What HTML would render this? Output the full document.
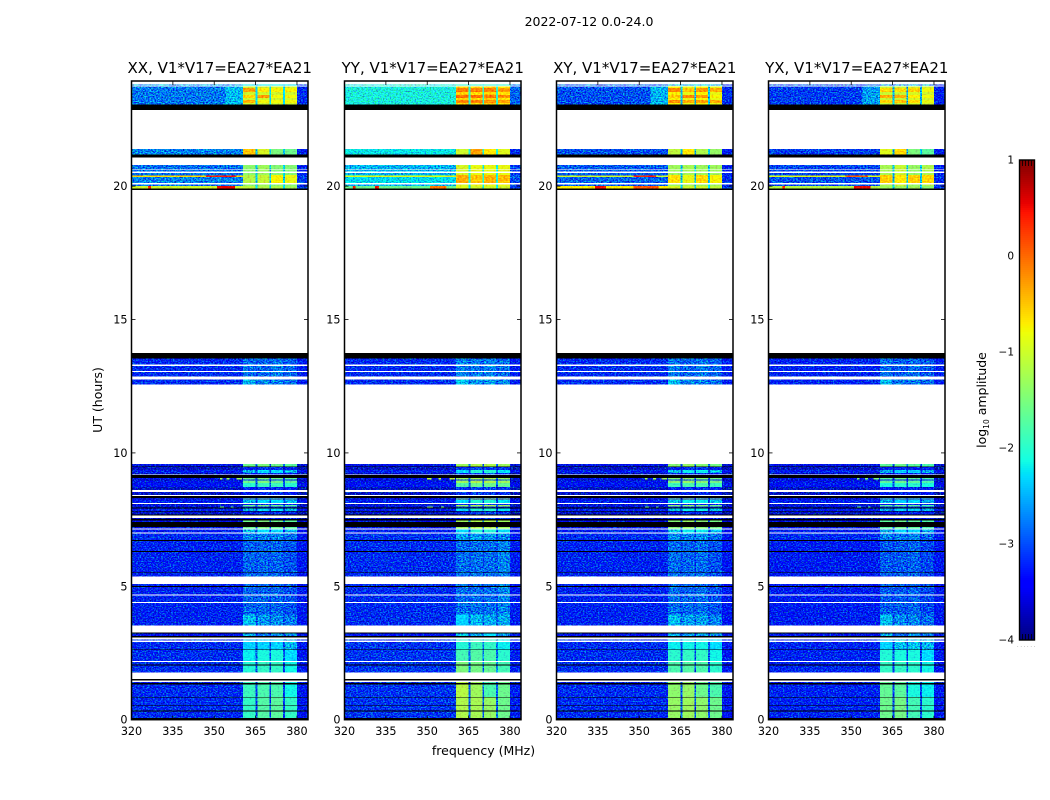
<!DOCTYPE html>
<html>
<head>
<meta charset="utf-8">
<title>2022-07-12 waterfall</title>
<style>
html,body{margin:0;padding:0;background:#fff;}
svg{display:block;}
text{font-family:"DejaVu Sans","Liberation Sans",sans-serif;fill:#000;}
</style>
</head>
<body>
<svg id="figure" xmlns="http://www.w3.org/2000/svg" width="1050" height="800" viewBox="0 0 1050 800">
  <defs>
    <filter id="speckle" x="0" y="0" width="1" height="1" color-interpolation-filters="sRGB">
      <feTurbulence type="fractalNoise" baseFrequency="0.6 0.8" numOctaves="2" seed="4" result="n"/>
      <feColorMatrix in="n" type="matrix" values="0 0 0 0 0.5  0 2 0 0 -0.5  0 0 1.4 0 -0.2  0 0 0 0 1" result="m"/>
      <feComposite in="SourceGraphic" in2="m" operator="arithmetic" k1="0" k2="1" k3="1" k4="-0.5" result="c"/>
      <feComposite in="c" in2="SourceAlpha" operator="in"/>
    </filter>
    <filter id="speckle-soft" x="0" y="0" width="1" height="1" color-interpolation-filters="sRGB">
      <feTurbulence type="fractalNoise" baseFrequency="0.5 0.7" numOctaves="1" seed="9" result="n"/>
      <feColorMatrix in="n" type="matrix" values="0 0 0 0 0.5  0 0.8 0 0 0.1  0 0 0 0 0.5  0 0 0 0 1" result="m"/>
      <feComposite in="SourceGraphic" in2="m" operator="arithmetic" k1="0" k2="1" k3="1" k4="-0.5" result="c"/>
      <feComposite in="c" in2="SourceAlpha" operator="in"/>
    </filter>
  </defs>
  <rect x="0" y="0" width="1050" height="800" fill="#fff"/>
  <text x="589" y="26" font-size="12.5" text-anchor="middle">2022-07-12 0.0-24.0</text>
  <text x="483.5" y="755" font-size="12.5" text-anchor="middle">frequency (MHz)</text>
  <text transform="translate(102,400) rotate(-90)" font-size="12.5" text-anchor="middle">UT (hours)</text>
  <text transform="translate(986,400) rotate(-90)" font-size="12.5" text-anchor="middle">log<tspan font-size="7.5" dy="3">10</tspan><tspan dy="-3"> amplitude</tspan></text>
  <g id="panels"></g>
  <g id="colorbar"></g>
</svg>
<script>
// ---- Axis data ----
const panelTitles = ["XX, V1*V17=EA27*EA21","YY, V1*V17=EA27*EA21","XY, V1*V17=EA27*EA21","YX, V1*V17=EA27*EA21"];
const freqTicks = [320,335,350,365,380];
const hourTicks = [0,5,10,15,20];
const colorTicks = [1,0,-1,-2,-3,-4];
const freqRange = [320,384];
const hourRange = [0,23.94];
const colorRange = [-4,1];

// Frequency segments (MHz): column = index into a level row
// level row: [background, window1, window2, window3, window4, windowGap, tail]
const channelEdges = [320,360.4,365,365.6,370,370.6,375,375.6,380,384];
const channelColumn = [0,1,5,2,5,3,5,4,6];

// Time bands (UT hours): [start, end, class]; x = no data (white), k = flagged (black)
const timeBands = [
[0,.07,'k'],[.07,.31,'a'],[.31,.34,'k'],[.34,.53,'a'],[.53,.56,'k'],[.56,.83,'a'],[.83,.86,'k'],[.86,1.32,'a2'],[1.32,1.37,'k'],[1.37,1.41,'a2'],[1.41,1.46,'x'],[1.46,1.52,'k'],[1.52,1.77,'x'],
[1.77,2.03,'c'],[2.03,2.06,'k'],[2.06,2.16,'c'],[2.16,2.20,'x'],[2.20,2.61,'d'],[2.61,2.64,'k'],[2.64,2.91,'d2'],[2.91,2.96,'x'],[2.96,3.01,'d2'],[3.01,3.08,'x'],[3.08,3.13,'k'],[3.13,3.23,'e'],[3.23,3.26,'k'],[3.26,3.54,'x'],
[3.54,3.95,'q1'],[3.95,4.37,'q2'],[4.37,4.41,'x'],[4.41,4.65,'q2'],[4.65,4.69,'x'],[4.69,4.97,'q2'],[4.97,5.01,'k'],[5.01,5.08,'q2'],[5.08,5.36,'x'],[5.36,5.51,'q2'],[5.51,5.54,'k'],[5.54,6.29,'q2'],[6.29,6.32,'k'],[6.32,6.69,'q2'],[6.69,6.74,'k'],
[6.74,6.97,'q3'],[6.97,7.01,'x'],[7.01,7.13,'m'],[7.13,7.17,'x'],[7.17,7.23,'g'],[7.23,7.41,'k'],[7.41,7.47,'g'],[7.47,7.52,'k'],[7.52,7.56,'n'],[7.56,7.66,'x'],[7.66,7.69,'k'],[7.69,7.80,'n'],[7.80,7.83,'k'],[7.83,7.92,'m'],[7.92,7.95,'k'],[7.95,8,'n'],[8,8.05,'g'],[8.05,8.08,'n'],[8.08,8.13,'x'],[8.13,8.23,'m'],[8.23,8.26,'n'],[8.26,8.29,'g'],[8.29,8.31,'n'],[8.31,8.38,'k'],[8.38,8.43,'x'],[8.43,8.53,'n'],[8.53,8.61,'x'],[8.61,8.73,'n'],[8.73,8.88,'l'],[8.88,8.96,'g'],[8.96,9.01,'n'],[9.01,9.06,'g'],[9.06,9.17,'k'],[9.17,9.19,'x'],[9.19,9.25,'n'],[9.25,9.36,'m'],[9.36,9.47,'n'],[9.47,9.49,'k'],[9.49,9.58,'g'],
[12.52,12.56,'x'],[12.56,12.76,'h2'],[12.76,12.86,'x'],[12.86,13.03,'h'],[13.03,13.07,'x'],[13.07,13.26,'h'],[13.26,13.31,'x'],[13.31,13.54,'h'],[13.54,13.74,'k'],
[19.86,19.92,'k'],[19.92,20.01,'r'],[20.01,20.06,'w'],[20.06,20.11,'x'],[20.11,20.35,'y'],[20.35,20.39,'v'],[20.39,20.42,'y'],[20.42,20.5,'w'],[20.5,20.54,'x'],[20.54,20.6,'w'],[20.6,20.63,'x'],[20.63,20.8,'w'],
[21.07,21.19,'k'],[21.19,21.39,'s'],[22.86,23.05,'k'],
[23.05,23.12,'t0'],[23.12,23.23,'t1'],[23.23,23.31,'t0'],[23.31,23.42,'t2'],[23.42,23.53,'t0'],[23.53,23.68,'t3'],[23.68,23.73,'t0'],[23.78,23.81,'p']
];

// Level rows per band class, one table per polarisation (log10 amplitude)
const levelsXX = {
 a:[-3.2,-1.95,-1.75,-1.7,-1.95,-3.1,-3.35], a2:[-3.2,-1.9,-1.8,-1.8,-2.15,-3.1,-3.35], c:[-3.2,-2.05,-1.95,-1.95,-2.15,-3,-3.35], d:[-3.2,-2.2,-2.1,-2.1,-2.3,-3,-3.35], d2:[-3.2,-2.35,-2.35,-2.35,-2.5,-3,-3.35], e:[-3.5,-2.5,-2.8,-2.7,-2.7,-3.2,-3.5],
 q1:[-3.25,-2.45,-2.65,-2.7,-2.8,-3,-3.35], q2:[-3.25,-2.9,-2.9,-2.9,-3,-3.05,-3.35], q3:[-3.2,-2.75,-2.75,-2.75,-2.85,-3,-3.35],
 g:[-3.5,-1.6,-1.5,-1.6,-1.7,-3,-3.6], l:[-3.4,-2,-1.9,-1.9,-2,-3.1,-3.5], n:[-3.7,-3.3,-3.2,-3.2,-3.3,-3.6,-3.8], m:[-3.3,-2.5,-2.3,-2.3,-2.5,-3.1,-3.4],
 h:[-3.2,-2.85,-2.9,-2.8,-2.9,-3,-3.3], h2:[-3.2,-2.5,-2.75,-2.75,-2.85,-3,-3.3],
 r:[-1,-1.1,-1.2,-1.2,-1.3,-2.3,-3.1], w:[-2.85,-1.4,-1.3,-1.45,-1.45,-2.4,-3.3], y:[-2.75,-1.15,-1.05,-.75,-.85,-2.4,-3.1], v:[-.6,-1.15,-1.05,-.75,-.85,-2.4,-3.1], s:[-2.75,-.5,-.95,-1.5,-1.6,-2.4,-3.3],
 t0:[-2.8,-1,-1,-1,-1,-2.3,-3.2], t1:[-2.8,-.4,-.8,-.8,-.8,-2.3,-3.2], t2:[-2.8,-.6,-.3,-.8,-.8,-2.3,-3.2], t3:[-2.8,-.3,-.7,-.75,-.75,-2.3,-3.2], p:[-2.6,-2.2,-2.2,-2.2,-2.2,-2.4,-2.9]
};
const levelsYY = {
 a:[-3.15,-1.2,-1.25,-1.35,-1.6,-2.9,-3.3], a2:[-3.15,-1.15,-1.3,-1.8,-1.6,-2.9,-3.3], c:[-3.15,-1.5,-1.55,-1.65,-1.85,-2.8,-3.3], d:[-3.15,-1.85,-1.75,-1.8,-2,-2.8,-3.3], d2:[-3.15,-2.05,-1.9,-1.95,-2.2,-2.8,-3.3], e:[-3.4,-2.4,-2.5,-2.3,-2.6,-3,-3.5],
 q1:[-3.2,-2.35,-2.45,-2.55,-2.55,-2.9,-3.3], q2:[-3.2,-2.85,-2.85,-2.85,-2.75,-3,-3.3], q3:[-3.15,-2.6,-2.6,-2.65,-2.75,-3,-3.3],
 g:[-3.5,-1.3,-1.2,-1.2,-1.3,-2.9,-3.6], l:[-3.4,-1.75,-1.6,-1.6,-1.65,-3,-3.5], n:[-3.7,-3.2,-3.1,-3.1,-3.2,-3.6,-3.8], m:[-3.3,-2.3,-2.05,-2.05,-2.25,-3,-3.4],
 h:[-3.2,-2.75,-2.8,-2.75,-2.85,-3,-3.3], h2:[-3.2,-2.4,-2.65,-2.65,-2.75,-3,-3.3],
 r:[-1.6,-.9,-1,-1,-1,-2.2,-3.1], w:[-2.5,-.95,-.85,-.85,-.85,-2.2,-3.1], y:[-2.25,-.35,-.5,-.4,-.45,-2.1,-3], v:[-.9,-.35,-.5,-.4,-.45,-2.1,-3], s:[-2.2,-1,-.3,-.7,-.9,-2.1,-3.2],
 t0:[-2.1,-.55,-.6,-.55,-.65,-2,-2.9], t1:[-2.1,-.15,-.15,-.2,-.3,-2,-2.9], t2:[-2.1,-.05,-.05,-.1,-.2,-2,-2.9], t3:[-2.1,-.1,-.15,-.15,-.25,-2,-2.9], p:[-2.1,-2,-2,-2,-2,-2.2,-2.7]
};
const levelsXY = {
 a:[-3.2,-1.35,-1.3,-1.4,-1.6,-3,-3.35], a2:[-3.2,-1.4,-1.35,-1.6,-1.8,-3,-3.35], c:[-3.2,-1.8,-1.75,-1.8,-2,-3,-3.35], d:[-3.2,-2,-1.95,-1.95,-2.15,-3,-3.35], d2:[-3.2,-2.2,-2.15,-2.15,-2.3,-3,-3.35], e:[-3.5,-2.5,-2.6,-2.6,-2.7,-3.2,-3.5],
 q1:[-3.25,-2.45,-2.6,-2.6,-2.75,-3,-3.35], q2:[-3.25,-2.85,-2.9,-2.85,-3,-3.05,-3.35], q3:[-3.2,-2.7,-2.75,-2.7,-2.85,-3,-3.35],
 g:[-3.5,-1.45,-1.35,-1.45,-1.55,-3,-3.6], l:[-3.4,-1.9,-1.8,-1.8,-1.9,-3.1,-3.5], n:[-3.7,-3.3,-3.2,-3.2,-3.3,-3.6,-3.8], m:[-3.3,-2.4,-2.2,-2.2,-2.4,-3.1,-3.4],
 h:[-3.2,-2.8,-2.9,-2.8,-2.9,-3,-3.3], h2:[-3.2,-2.45,-2.75,-2.75,-2.85,-3,-3.3],
 r:[-.7,-.95,-1,-1,-1.1,-2.3,-3.1], w:[-2.95,-1.3,-1.25,-1.3,-1.3,-2.4,-3.3], y:[-2.9,-.65,-.85,-.6,-.75,-2.4,-3.2], v:[-1,-.65,-.85,-.6,-.75,-2.4,-3.2], s:[-3,-1.1,-.7,-1.2,-1.35,-2.4,-3.3],
 t0:[-3,-.75,-.85,-.75,-.85,-2.4,-3.2], t1:[-3,-.2,-.35,-.3,-.4,-2.4,-3.2], t2:[-3,-.5,-.15,-.3,-.75,-2.4,-3.2], t3:[-3,-.15,-.5,-.25,-.35,-2.4,-3.2], p:[-2.9,-2.4,-2.4,-2.4,-2.4,-2.6,-3.1]
};
const levelsYX = {
 a:[-3.25,-1.6,-1.55,-1.85,-2,-3.1,-3.35], a2:[-3.25,-1.65,-1.7,-2.1,-2.2,-3.1,-3.35], c:[-3.25,-1.95,-1.95,-2,-2.15,-3.1,-3.35], d:[-3.25,-2.05,-2.1,-2.1,-2.3,-3.1,-3.35], d2:[-3.25,-2.35,-2.4,-2.4,-2.5,-3.1,-3.35], e:[-3.5,-2.55,-2.8,-2.6,-2.8,-3.2,-3.5],
 q1:[-3.3,-2.45,-2.7,-2.75,-2.85,-3.05,-3.35], q2:[-3.3,-2.95,-2.95,-2.9,-3.05,-3.1,-3.35], q3:[-3.2,-2.75,-2.8,-2.75,-2.9,-3.05,-3.35],
 g:[-3.5,-1.7,-1.6,-1.7,-1.8,-3,-3.6], l:[-3.4,-2.1,-2,-2,-2.1,-3.1,-3.5], n:[-3.7,-3.35,-3.3,-3.3,-3.35,-3.6,-3.8], m:[-3.3,-2.55,-2.35,-2.35,-2.55,-3.1,-3.4],
 h:[-3.25,-2.85,-2.95,-2.85,-2.95,-3.05,-3.3], h2:[-3.25,-2.5,-2.8,-2.8,-2.9,-3.05,-3.3],
 r:[-1.15,-1.3,-1.3,-1.3,-1.4,-2.4,-3.1], w:[-3.05,-1.25,-1.05,-1.35,-1.2,-2.4,-3.3], y:[-3,-.55,-.7,-.55,-.6,-2.4,-3.2], v:[-.9,-.55,-.7,-.55,-.6,-2.4,-3.2], s:[-3.1,-.9,-.6,-1.5,-1.7,-2.4,-3.3],
 t0:[-3.1,-1.05,-1.05,-.95,-1,-2.5,-3.3], t1:[-3.1,-.6,-.5,-.6,-.85,-2.5,-3.3], t2:[-3.1,-.4,-.35,-.7,-.8,-2.5,-3.3], t3:[-3.1,-.6,-.6,-.55,-.8,-2.5,-3.3], p:[-3,-2.6,-2.6,-2.6,-2.6,-2.8,-3.2]
};
const panelLevels = [levelsXX,levelsYY,levelsXY,levelsYX];

// Narrow interference streaks: [hour start, hour end, MHz start, MHz end, level]
const streaksXX = [[19.92,20.01,351,357.5,.55],[19.92,20.01,326,327,.4],[20.35,20.39,347,358,.4],[9.01,9.06,352,353,-1.3],[9.01,9.06,354.5,355.5,-1.3],[9.01,9.06,358,360,-1.3],[7.95,8,352,353.5,-1.6],[7.95,8,356,357,-1.6],[23.05,23.73,354,360.4,-2.45]];
const streaksYY = [[19.92,20.01,323,324,.5],[19.92,20.01,331,332.5,.5],[19.92,20.01,351,357,-.1],[9.01,9.06,350,351.5,-1.1],[9.01,9.06,354,355,-1.1],[9.01,9.06,358,360,-1.1],[7.95,8,350,352,-1.4],[7.95,8,355,356,-1.4]];
const streaksXY = [[19.92,20.01,334,338,.5],[19.92,20.01,348,357,.1],[20.35,20.39,348,356,.35],[9.01,9.06,352,353,-1.3],[9.01,9.06,355,356,-1.3],[9.01,9.06,358,360,-1.3],[7.95,8,352,353.5,-1.6],[7.95,8,356,357,-1.6],[23.05,23.73,354,360.4,-2.5]];
const streaksYX = [[19.92,20.01,351,357,.55],[19.92,20.01,325,326,.4],[20.35,20.39,348,356,.1],[9.01,9.06,352,353,-1.5],[9.01,9.06,355,356,-1.5],[9.01,9.06,358,360,-1.5],[7.95,8,352,353.5,-1.7],[7.95,8,356,357,-1.7],[23.05,23.73,354,360.4,-2.6]];
const panelStreaks = [streaksXX,streaksYY,streaksXY,streaksYX];

const NS = 'http://www.w3.org/2000/svg';
const axisTop = 81, axisBottom = 719.7, axisWidth = 176.5;
const panelLefts = [131.5,344.5,556.5,768.5];
const colorbarBox = {x:1019.5,y:160,w:15,h:480};
const smoothAbove = -2.4;

function yScale(h){ return axisBottom-(h-hourRange[0])/(hourRange[1]-hourRange[0])*(axisBottom-axisTop); }
function xScale(f,left){ return left+(f-freqRange[0])/(freqRange[1]-freqRange[0])*axisWidth; }
function jetChannel(t,pts){
  for(let i=1;i<pts.length;i++){
    if(t<=pts[i][0]){ const a=pts[i-1],b=pts[i]; return a[1]+(b[1]-a[1])*(t-a[0])/(b[0]-a[0]); }
  }
  return pts[pts.length-1][1];
}
function colorOf(v){
  const t=Math.max(0,Math.min(1,(v-colorRange[0])/(colorRange[1]-colorRange[0])));
  const r=jetChannel(t,[[0,0],[.35,0],[.66,1],[.89,1],[1,.5]]);
  const g=jetChannel(t,[[0,0],[.125,0],[.375,1],[.64,1],[.91,0],[1,0]]);
  const b=jetChannel(t,[[0,.5],[.11,1],[.34,1],[.65,0],[1,0]]);
  return 'rgb('+Math.round(r*255)+','+Math.round(g*255)+','+Math.round(b*255)+')';
}
function mk(tag,parent,attrs,text){
  const e=document.createElementNS(NS,tag);
  for(const k in attrs) e.setAttribute(k,attrs[k]);
  if(text!==undefined) e.textContent=text;
  parent.appendChild(e);
  return e;
}

const panelsRoot=document.getElementById('panels');
panelTitles.forEach(function(title,pi){
  const left=panelLefts[pi], levels=panelLevels[pi];
  const g=mk('g',panelsRoot,{});
  
  

  const heat=mk('g',g,{filter:'url(#speckle)','shape-rendering':'crispEdges'});
  
  
  const soft=mk('g',g,{filter:'url(#speckle-soft)','shape-rendering':'crispEdges'});
  
  
  const flags=mk('g',g,{'shape-rendering':'crispEdges'});
  
  

  timeBands.forEach(function(b){
    const y0=yScale(b[1]), y1=yScale(b[0]);
    if(b[2]==='x') return;
    if(b[2]==='k'){
      const r=mk('rect',flags,{x:left,y:y0,width:axisWidth,height:y1-y0,fill:'#000'});
      
      
      return;
    }
    const row=levels[b[2]];
    channelColumn.forEach(function(col,i){
      const x0=xScale(channelEdges[i],left), x1=xScale(channelEdges[i+1],left);
      const v=row[col];
      const useSoft=(col!==0 || b[2]==='r' || b[2]==='v') && v>smoothAbove;
      const c=mk('rect',useSoft?soft:heat,{x:x0,y:y0,width:x1-x0,height:y1-y0,fill:colorOf(v)});
      
      
    });
  });
  panelStreaks[pi].forEach(function(s){
    const x0=xScale(s[2],left), x1=xScale(s[3],left), y0=yScale(s[1]), y1=yScale(s[0]);
    const c=mk('rect',s[4]>-2?soft:heat,{x:x0,y:y0,width:x1-x0,height:y1-y0,fill:colorOf(s[4])});
    
    
  });

  const frame=mk('rect',g,{x:left,y:axisTop,width:axisWidth,height:axisBottom-axisTop,fill:'none',stroke:'#000','stroke-width':1.5});
  
  

  freqTicks.forEach(function(f){
    const x=xScale(f,left);
    const t1=mk('line',g,{x1:x,x2:x,y1:axisBottom,y2:axisBottom-4,stroke:'#000','stroke-width':.8});
    
    
    const t2=mk('line',g,{x1:x,x2:x,y1:axisTop,y2:axisTop+4,stroke:'#000','stroke-width':.8});
    
    
    const l=mk('text',g,{x:x,y:735,'font-size':11.2,'text-anchor':'middle'},String(f));
    
    
  });
  hourTicks.forEach(function(h){
    const y=yScale(h);
    const t1=mk('line',g,{x1:left,x2:left+4,y1:y,y2:y,stroke:'#000','stroke-width':.8});
    
    
    const t2=mk('line',g,{x1:left+axisWidth,x2:left+axisWidth-4,y1:y,y2:y,stroke:'#000','stroke-width':.8});
    
    
    const l=mk('text',g,{x:left-4,y:y+4,'font-size':11.2,'text-anchor':'end'},String(h));
    
    
  });
  const tl=mk('text',g,{x:left+axisWidth/2,y:73,'font-size':15,'text-anchor':'middle'},title);
  
  
});

// Colorbar
const cbRoot=document.getElementById('colorbar');
const cb=colorbarBox;
const cbGrad=mk('g',cbRoot,{'shape-rendering':'crispEdges'});


const cbSteps=240;
for(let i=0;i<cbSteps;i++){
  const v=colorRange[1]-(i+.5)/cbSteps*(colorRange[1]-colorRange[0]);
  const s=mk('rect',cbGrad,{x:cb.x,y:cb.y+i*cb.h/cbSteps,width:cb.w,height:cb.h/cbSteps+.5,fill:colorOf(v)});
  
  
}
const cbFrame=mk('rect',cbRoot,{x:cb.x,y:cb.y,width:cb.w,height:cb.h,fill:'none',stroke:'#000','stroke-width':1.4});


colorTicks.forEach(function(v){
  const y=cb.y+(colorRange[1]-v)/(colorRange[1]-colorRange[0])*cb.h;
  const l=mk('text',cbRoot,{x:1014,y:y+3.5,'font-size':10.5,'text-anchor':'end'},String(v).replace('-','\u2212'));
  
  
});
const cbMinorTicks=[1,2,3,4];
cbMinorTicks.forEach(function(k){
  const x=cb.x+k*cb.w/5;
  const a=mk('line',cbRoot,{x1:x,x2:x,y1:cb.y,y2:cb.y+6,stroke:'#000','stroke-width':.8});
  
  
  const b=mk('line',cbRoot,{x1:x,x2:x,y1:cb.y+cb.h,y2:cb.y+cb.h-6,stroke:'#000','stroke-width':.8});
  
  
});
const cbDots=mk('text',cbRoot,{x:1017,y:647,'font-size':5,'letter-spacing':1.75},'......');
cbDots.setAttribute('style','fill:#777');


</script>
</body>
</html>
